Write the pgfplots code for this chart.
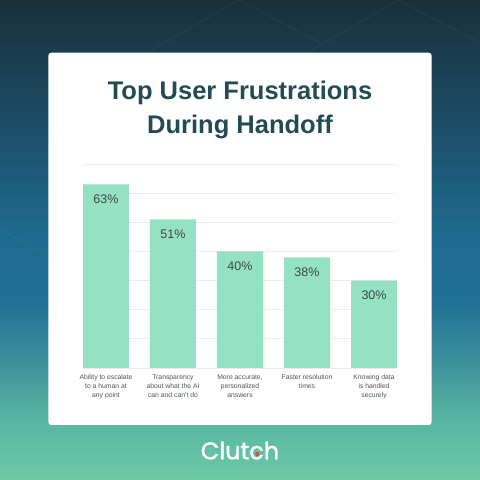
\documentclass[border=0pt]{standalone}
\usepackage{pgfplots}
\pgfplotsset{compat=1.18}
\usepackage{fontspec}
\setmainfont{Liberation Sans}
\newfontfamily\clutchfont{Poppins}[FakeBold=1.6]
\definecolor{bgA}{HTML}{6CCAA6}
\definecolor{bgB}{HTML}{58B6A3}
\definecolor{bgC}{HTML}{3C8F9A}
\definecolor{bgD}{HTML}{1F7095}
\definecolor{bgE}{HTML}{1E6A8E}
\definecolor{bgF}{HTML}{1D5370}
\definecolor{bgG}{HTML}{1A3E4E}
\definecolor{bgH}{HTML}{1A2F3B}
\definecolor{titlec}{HTML}{244B52}
\definecolor{barc}{HTML}{94E1C3}
\definecolor{gridc}{HTML}{EBEBEB}
\definecolor{lblc}{HTML}{3C4A4A}
\definecolor{tickc}{HTML}{4E5555}
\definecolor{dotc}{HTML}{EF4335}
\pgfdeclareverticalshading{bgshade}{100bp}{%
  color(0bp)=(bgA); color(25bp)=(bgA); color(31.25bp)=(bgB); color(37.5bp)=(bgC);
  color(43.75bp)=(bgD); color(51bp)=(bgE); color(59.4bp)=(bgF); color(68.75bp)=(bgG);
  color(75bp)=(bgH); color(100bp)=(bgH)}
\begin{document}
\begin{tikzpicture}
\useasboundingbox (0pt,0pt) rectangle (480pt,480pt);
\shade[shading=bgshade] (0pt,0pt) rectangle (480pt,480pt);
\begin{scope}[x=1pt,y=1pt]
  \draw[white, opacity=0.05, line width=0.8pt] (147,427) -- (239,480) -- (320,437);
  \draw[white, opacity=0.05, line width=0.8pt] (307,427) -- (398,480) -- (480,437);
  \draw[white, opacity=0.05, line width=0.8pt] (0,250) -- (48,225);
  \fill[white, rounded corners=3pt] (48.3,55) rectangle (431.7,427.3);
  \node[anchor=base, text=titlec, font=\fontsize{25.5}{30}\selectfont\bfseries, inner sep=0pt] at (240,380.7) {Top User Frustrations};
  \node[anchor=base, text=titlec, font=\fontsize{25.5}{30}\selectfont\bfseries, inner sep=0pt] at (240,346.7) {During Handoff};
  \node[anchor=base, text=white, font=\clutchfont\fontsize{24}{28}\selectfont, inner sep=0pt] (cl) at (240,20.7) {Clutch};
  \fill[dotc] (257.3,26) circle (2.1);
\end{scope}
\begin{axis}[
  at={(83pt,112pt)}, anchor=south west,
  scale only axis, width=314pt, height=204pt,
  ymin=0, ymax=70, xmin=-0.343, xmax=4.343,
  ybar, bar width=46pt,
  axis line style={draw=none},
  tick style={draw=none},
  major tick length=0pt,
  ytick={0,10,...,70}, yticklabels={},
  ymajorgrids, grid style={draw=gridc, line width=0.9pt},
  xtick=data,
  xticklabels={{Ability to escalate\\to a human at\\any point},
               {Transparency\\about what the AI\\can and can’t do},
               {More accurate,\\personalized\\answers},
               {Faster resolution\\times},
               {Knowing data\\is handled\\securely}},
  xticklabel style={align=center, font=\fontsize{6.8}{9}\selectfont, text=tickc, yshift=-3.5pt},
  /pgf/number format/assume math mode=true,
  nodes near coords={\pgfmathprintnumber{\pgfplotspointmeta}\%},
  every node near coord/.append style={anchor=center, yshift=-15pt, font=\fontsize{12.5}{14}\selectfont, text=lblc},
]
\addplot[fill=barc, draw=none] coordinates {(0,63) (1,51) (2,40) (3,38) (4,30)};
\end{axis}
\end{tikzpicture}
\end{document}
